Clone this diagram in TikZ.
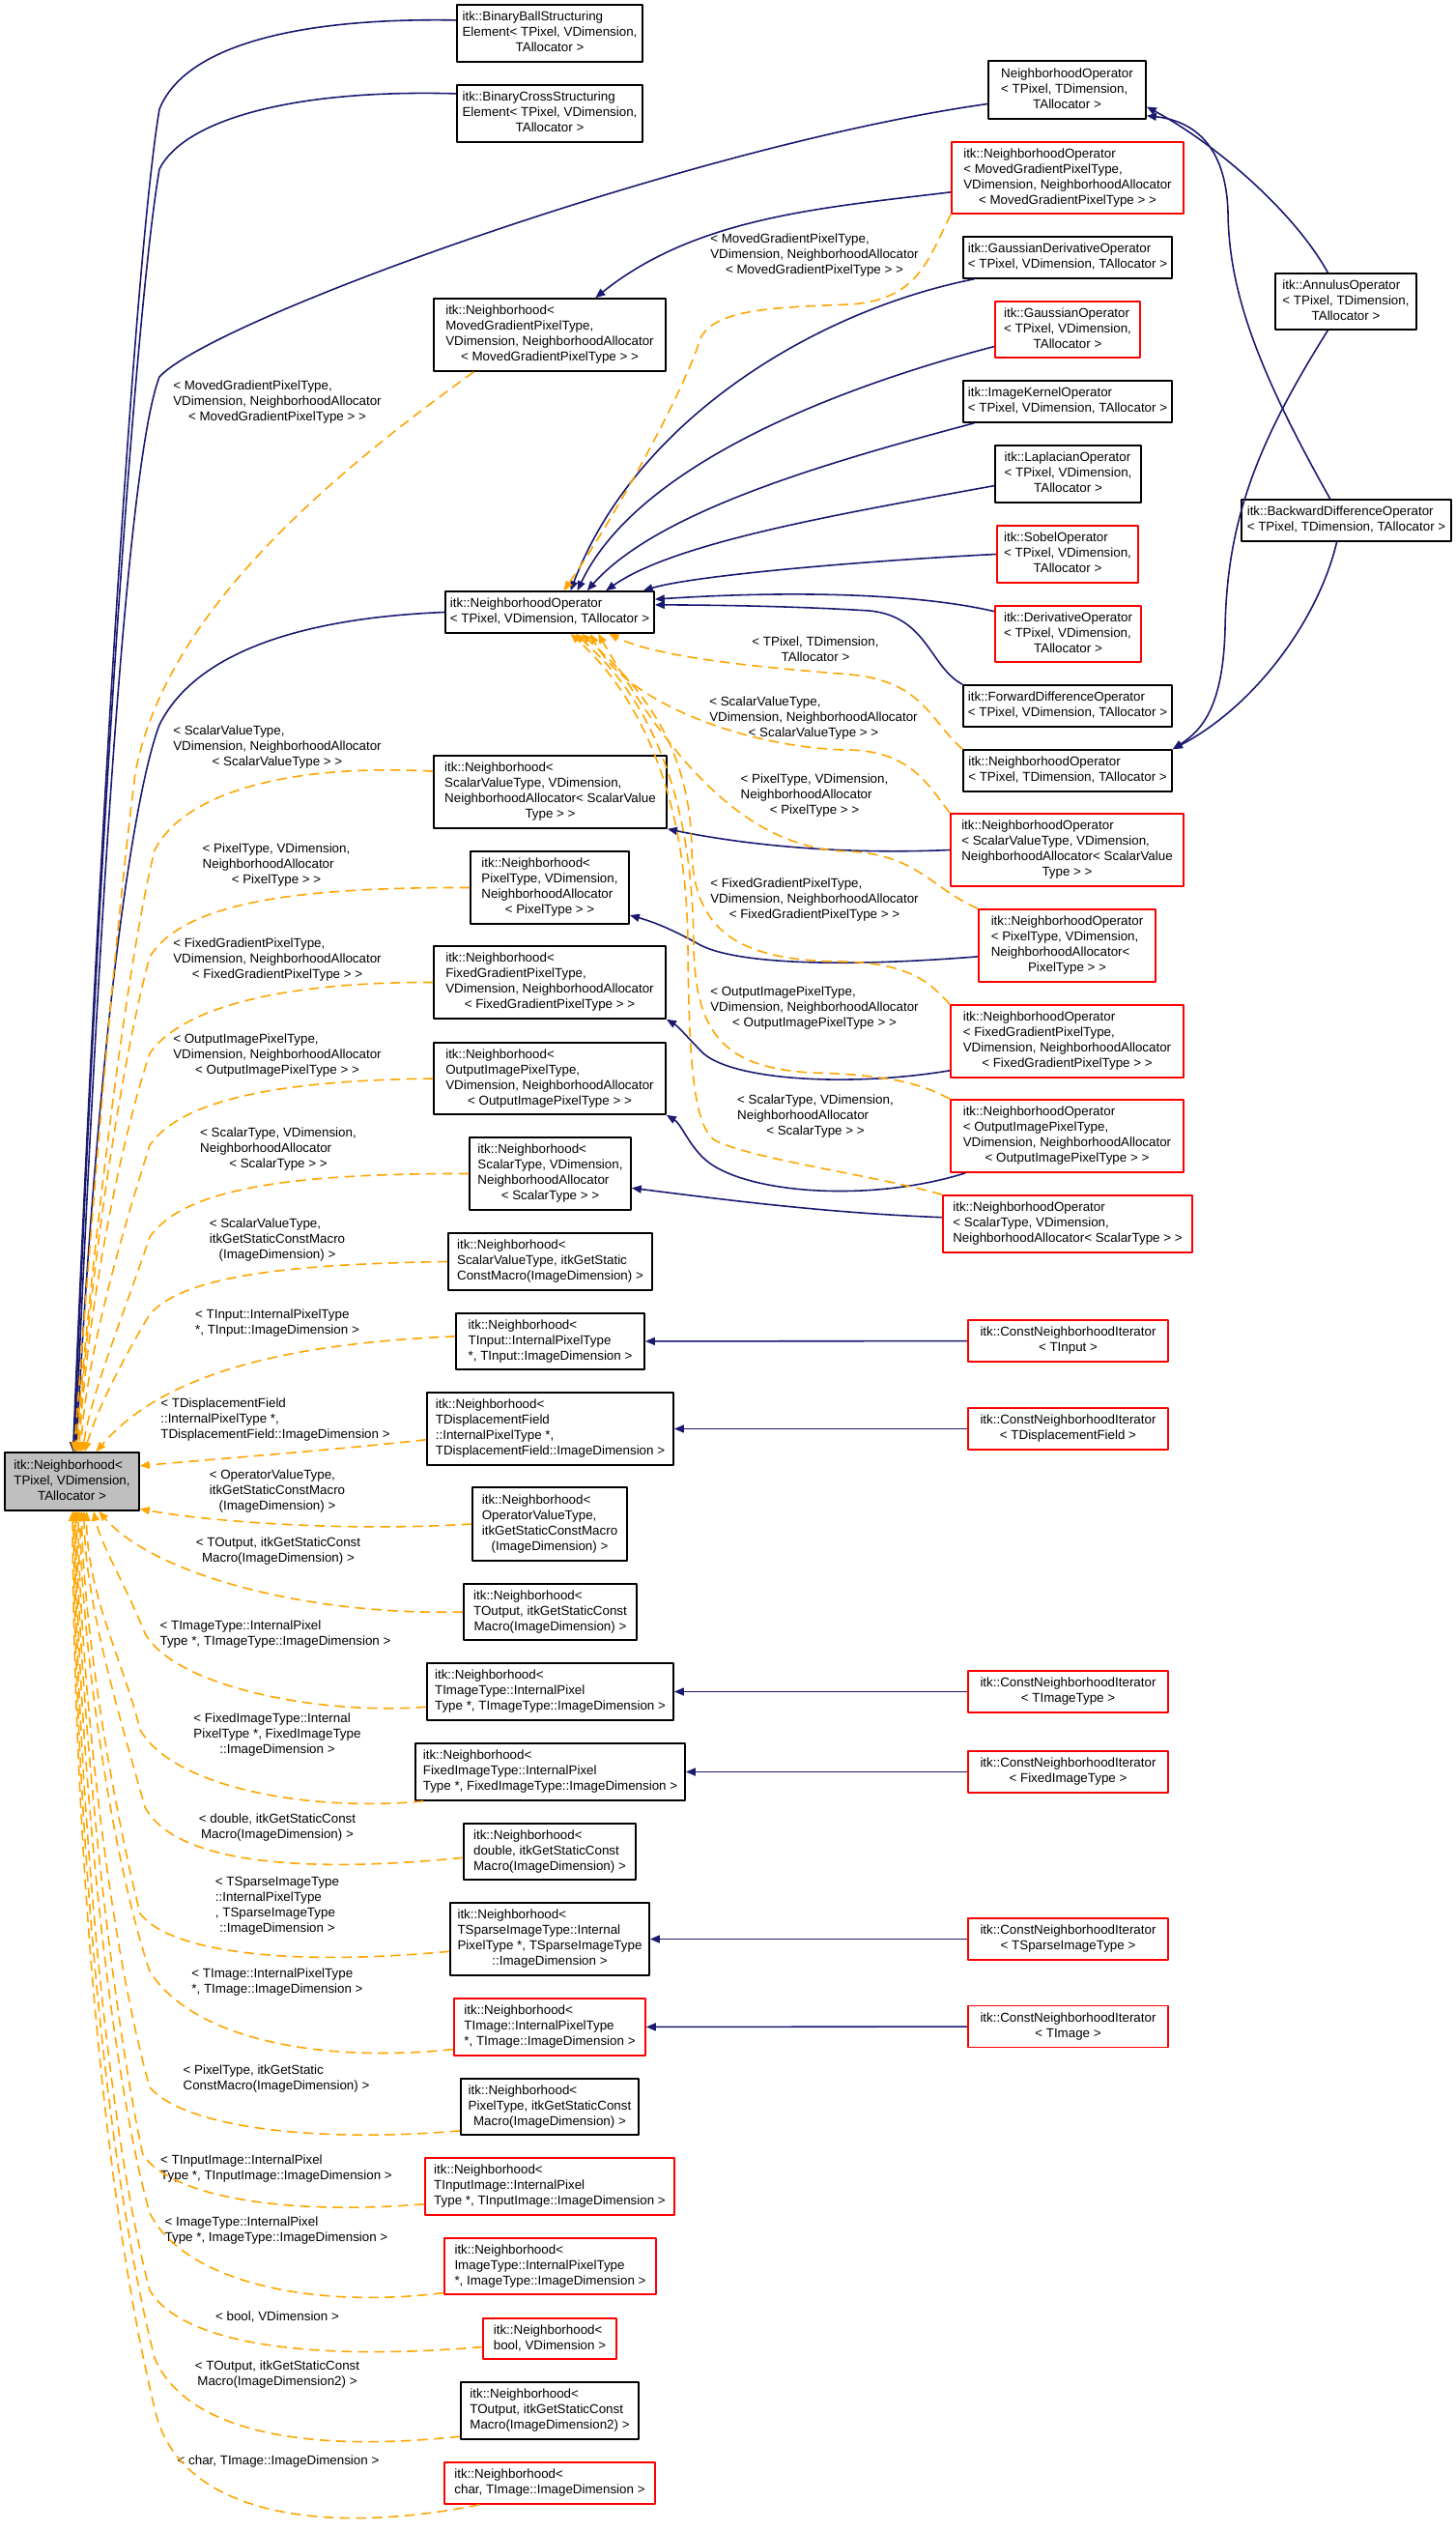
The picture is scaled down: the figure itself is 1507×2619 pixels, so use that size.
\documentclass[tikz,border=0pt]{standalone}
\usepackage{fontspec}
\setmainfont{Liberation Sans}
\usetikzlibrary{arrows.meta}
\definecolor{navy}{HTML}{191970}
\definecolor{tmplorange}{HTML}{FFA500}
\definecolor{basegray}{HTML}{BFBFBF}
% 前几行左对齐，最后一行居中
\newcommand{\dxl}[2]{\begin{tabular}{@{}l@{}}#1\\\multicolumn{1}{@{}c@{}}{#2}\end{tabular}}

\begin{document}
\begin{tikzpicture}[x=0.01cm,y=-0.01cm,line join=round,
  every node/.style={inner sep=0pt,font=\fontsize{3.8}{4.55}\selectfont},
  cls/.style={draw=black,fill=white,line width=0.45pt},
  undoc/.style={cls,draw=red},
  inh/.style={draw=navy,line width=0.45pt,-{Triangle[length=0.1cm,width=0.08cm]}},
  tmpl/.style={draw=tmplorange,line width=0.45pt,dash pattern=on 3pt off 1.8pt,-{Triangle[length=0.1cm,width=0.08cm]}}]
  \fill[white] (0,0) rectangle (1507,2619);
  \path[use as bounding box] (0,0) rectangle (1507,2619);
  % 基类
  \node[cls,fill=basegray,minimum width=1.39cm,minimum height=0.60cm] (L) at (74.5,1533) {\dxl{itk::Neighborhood<\\TPixel, VDimension,}{TAllocator >}};
  % 上部子类
  \node[cls,minimum width=1.92cm,minimum height=0.59cm] (bball) at (569,34.5) {\dxl{itk::BinaryBallStructuring\\Element< TPixel, VDimension,}{TAllocator >}};
  \node[cls,minimum width=1.92cm,minimum height=0.59cm] (bcross) at (569,117.5) {\dxl{itk::BinaryCrossStructuring\\Element< TPixel, VDimension,}{TAllocator >}};
  \node[cls,minimum width=1.63cm,minimum height=0.60cm] (nopT) at (1104.5,93) {\dxl{NeighborhoodOperator\\< TPixel, TDimension,}{TAllocator >}};
  \node[undoc,minimum width=2.40cm,minimum height=0.74cm] (nopMG) at (1105,184) {\dxl{itk::NeighborhoodOperator\\< MovedGradientPixelType,\\VDimension, NeighborhoodAllocator}{< MovedGradientPixelType > >}};
  \node[cls,minimum width=2.40cm,minimum height=0.75cm] (nbMG) at (569,346.5) {\dxl{itk::Neighborhood<\\MovedGradientPixelType,\\VDimension, NeighborhoodAllocator}{< MovedGradientPixelType > >}};
  % 算子
  \node[cls,minimum width=2.16cm,minimum height=0.43cm] (gdo) at (1105,266.5) {\dxl{itk::GaussianDerivativeOperator}{< TPixel, VDimension, TAllocator >}};
  \node[undoc,minimum width=1.50cm,minimum height=0.58cm] (go) at (1105,341) {\dxl{itk::GaussianOperator\\< TPixel, VDimension,}{TAllocator >}};
  \node[cls,minimum width=1.46cm,minimum height=0.58cm] (annulus) at (1393,312) {\dxl{itk::AnnulusOperator\\< TPixel, TDimension,}{TAllocator >}};
  \node[cls,minimum width=2.16cm,minimum height=0.43cm] (iko) at (1105,415.5) {\dxl{itk::ImageKernelOperator}{< TPixel, VDimension, TAllocator >}};
  \node[cls,minimum width=1.51cm,minimum height=0.59cm] (lap) at (1105.5,490.5) {\dxl{itk::LaplacianOperator\\< TPixel, VDimension,}{TAllocator >}};
  \node[cls,minimum width=2.17cm,minimum height=0.43cm] (bdo) at (1393.5,538.5) {\dxl{itk::BackwardDifferenceOperator}{< TPixel, TDimension, TAllocator >}};
  \node[undoc,minimum width=1.46cm,minimum height=0.59cm] (sobel) at (1105,573.5) {\dxl{itk::SobelOperator\\< TPixel, VDimension,}{TAllocator >}};
  \node[undoc,minimum width=1.51cm,minimum height=0.58cm] (deriv) at (1105.5,656) {\dxl{itk::DerivativeOperator\\< TPixel, VDimension,}{TAllocator >}};
  \node[cls,minimum width=2.16cm,minimum height=0.43cm] (fdo) at (1105,730.5) {\dxl{itk::ForwardDifferenceOperator}{< TPixel, VDimension, TAllocator >}};
  \node[cls,minimum width=2.16cm,minimum height=0.43cm] (nopTD) at (1105,797.5) {\dxl{itk::NeighborhoodOperator}{< TPixel, TDimension, TAllocator >}};
  \node[cls,minimum width=2.16cm,minimum height=0.43cm] (hub) at (569,633.5) {\dxl{itk::NeighborhoodOperator}{< TPixel, VDimension, TAllocator >}};
  % 模板实例（中列与右列）
  \node[cls,minimum width=2.41cm,minimum height=0.75cm] (nbSV) at (569.5,819.5) {\dxl{itk::Neighborhood<\\ScalarValueType, VDimension,\\NeighborhoodAllocator< ScalarValue}{Type > >}};
  \node[undoc,minimum width=2.41cm,minimum height=0.75cm] (nopSV) at (1104.5,879.5) {\dxl{itk::NeighborhoodOperator\\< ScalarValueType, VDimension,\\NeighborhoodAllocator< ScalarValue}{Type > >}};
  \node[cls,minimum width=1.64cm,minimum height=0.75cm] (nbP) at (569,918.5) {\dxl{itk::Neighborhood<\\PixelType, VDimension,\\NeighborhoodAllocator}{< PixelType > >}};
  \node[undoc,minimum width=1.83cm,minimum height=0.75cm] (nopP) at (1104.5,978.5) {\dxl{itk::NeighborhoodOperator\\< PixelType, VDimension,\\NeighborhoodAllocator<}{PixelType > >}};
  \node[cls,minimum width=2.40cm,minimum height=0.75cm] (nbFG) at (569,1016.5) {\dxl{itk::Neighborhood<\\FixedGradientPixelType,\\VDimension, NeighborhoodAllocator}{< FixedGradientPixelType > >}};
  \node[undoc,minimum width=2.41cm,minimum height=0.75cm] (nopFG) at (1104.5,1077.5) {\dxl{itk::NeighborhoodOperator\\< FixedGradientPixelType,\\VDimension, NeighborhoodAllocator}{< FixedGradientPixelType > >}};
  \node[cls,minimum width=2.40cm,minimum height=0.74cm] (nbOI) at (569,1116) {\dxl{itk::Neighborhood<\\OutputImagePixelType,\\VDimension, NeighborhoodAllocator}{< OutputImagePixelType > >}};
  \node[undoc,minimum width=2.41cm,minimum height=0.75cm] (nopOI) at (1104.5,1175.5) {\dxl{itk::NeighborhoodOperator\\< OutputImagePixelType,\\VDimension, NeighborhoodAllocator}{< OutputImagePixelType > >}};
  \node[cls,minimum width=1.67cm,minimum height=0.75cm] (nbS) at (569.5,1214.5) {\dxl{itk::Neighborhood<\\ScalarType, VDimension,\\NeighborhoodAllocator}{< ScalarType > >}};
  \node[undoc,minimum width=2.58cm,minimum height=0.59cm] (nopS) at (1105,1266.5) {\dxl{itk::NeighborhoodOperator\\< ScalarType, VDimension,}{NeighborhoodAllocator< ScalarType > >}};
  \node[cls,minimum width=2.11cm,minimum height=0.59cm] (nbSVM) at (569.5,1305.5) {\dxl{itk::Neighborhood<\\ScalarValueType, itkGetStatic}{ConstMacro(ImageDimension) >}};
  \node[cls,minimum width=1.95cm,minimum height=0.58cm] (nbTI) at (569.5,1388) {\dxl{itk::Neighborhood<\\TInput::InternalPixelType}{*, TInput::ImageDimension >}};
  \node[undoc,minimum width=2.07cm,minimum height=0.43cm] (citI) at (1105.5,1387.5) {\dxl{itk::ConstNeighborhoodIterator}{< TInput >}};
  \node[cls,minimum width=2.55cm,minimum height=0.75cm] (nbDF) at (569.5,1478.5) {\dxl{itk::Neighborhood<\\TDisplacementField\\::InternalPixelType *,}{TDisplacementField::ImageDimension >}};
  \node[undoc,minimum width=2.07cm,minimum height=0.43cm] (citDF) at (1105.5,1478.5) {\dxl{itk::ConstNeighborhoodIterator}{< TDisplacementField >}};
  \node[cls,minimum width=1.60cm,minimum height=0.76cm] (nbOV) at (569,1577) {\dxl{itk::Neighborhood<\\OperatorValueType,\\itkGetStaticConstMacro}{(ImageDimension) >}};
  \node[cls,minimum width=1.79cm,minimum height=0.58cm] (nbTO) at (569.5,1668) {\dxl{itk::Neighborhood<\\TOutput, itkGetStaticConst}{Macro(ImageDimension) >}};
  \node[cls,minimum width=2.55cm,minimum height=0.59cm] (nbTT) at (569.5,1750.5) {\dxl{itk::Neighborhood<\\TImageType::InternalPixel}{Type *, TImageType::ImageDimension >}};
  \node[undoc,minimum width=2.07cm,minimum height=0.43cm] (citTT) at (1105.5,1750.5) {\dxl{itk::ConstNeighborhoodIterator}{< TImageType >}};
  \node[cls,minimum width=2.79cm,minimum height=0.59cm] (nbFI) at (569.5,1833.5) {\dxl{itk::Neighborhood<\\FixedImageType::InternalPixel}{Type *, FixedImageType::ImageDimension >}};
  \node[undoc,minimum width=2.07cm,minimum height=0.43cm] (citFI) at (1105.5,1833.5) {\dxl{itk::ConstNeighborhoodIterator}{< FixedImageType >}};
  \node[cls,minimum width=1.78cm,minimum height=0.58cm] (nbD) at (569,1916) {\dxl{itk::Neighborhood<\\double, itkGetStaticConst}{Macro(ImageDimension) >}};
  \node[cls,minimum width=2.06cm,minimum height=0.75cm] (nbSI) at (569,2006.5) {\dxl{itk::Neighborhood<\\TSparseImageType::Internal\\PixelType *, TSparseImageType}{::ImageDimension >}};
  \node[undoc,minimum width=2.07cm,minimum height=0.43cm] (citSI) at (1105.5,2006.5) {\dxl{itk::ConstNeighborhoodIterator}{< TSparseImageType >}};
  \node[undoc,minimum width=1.98cm,minimum height=0.59cm] (nbI) at (569,2097.5) {\dxl{itk::Neighborhood<\\TImage::InternalPixelType}{*, TImage::ImageDimension >}};
  \node[undoc,minimum width=2.07cm,minimum height=0.43cm] (citIm) at (1105.5,2097) {\dxl{itk::ConstNeighborhoodIterator}{< TImage >}};
  \node[cls,minimum width=1.84cm,minimum height=0.58cm] (nbPT) at (569,2180) {\dxl{itk::Neighborhood<\\PixelType, itkGetStaticConst}{Macro(ImageDimension) >}};
  \node[undoc,minimum width=2.58cm,minimum height=0.59cm] (nbTIm) at (569,2262.5) {\dxl{itk::Neighborhood<\\TInputImage::InternalPixel}{Type *, TInputImage::ImageDimension >}};
  \node[undoc,minimum width=2.19cm,minimum height=0.58cm] (nbIT) at (569.5,2345) {\dxl{itk::Neighborhood<\\ImageType::InternalPixelType}{*, ImageType::ImageDimension >}};
  \node[undoc,minimum width=1.38cm,minimum height=0.42cm] (nbB) at (569,2420) {\dxl{itk::Neighborhood<}{bool, VDimension >}};
  \node[cls,minimum width=1.84cm,minimum height=0.59cm] (nbTO2) at (569,2494.5) {\dxl{itk::Neighborhood<\\TOutput, itkGetStaticConst}{Macro(ImageDimension2) >}};
  \node[undoc,minimum width=2.18cm,minimum height=0.43cm] (nbC) at (569,2569.5) {\dxl{itk::Neighborhood<}{char, TImage::ImageDimension >}};
  % 模板参数标签
  \node (lMG1) at (287,416) {\dxl{< MovedGradientPixelType,\\VDimension, NeighborhoodAllocator}{< MovedGradientPixelType > >}};
  \node (lMG2) at (843,264) {\dxl{< MovedGradientPixelType,\\VDimension, NeighborhoodAllocator}{< MovedGradientPixelType > >}};
  \node (lTD) at (844,673) {\dxl{< TPixel, TDimension,}{TAllocator >}};
  \node (lSV2) at (842,743) {\dxl{< ScalarValueType,\\VDimension, NeighborhoodAllocator}{< ScalarValueType > >}};
  \node (lP2) at (843,823) {\dxl{< PixelType, VDimension,\\NeighborhoodAllocator}{< PixelType > >}};
  \node (lFG2) at (843,931) {\dxl{< FixedGradientPixelType,\\VDimension, NeighborhoodAllocator}{< FixedGradientPixelType > >}};
  \node (lOI2) at (843,1043) {\dxl{< OutputImagePixelType,\\VDimension, NeighborhoodAllocator}{< OutputImagePixelType > >}};
  \node (lS2) at (844,1155) {\dxl{< ScalarType, VDimension,\\NeighborhoodAllocator}{< ScalarType > >}};
  \node (lSV) at (287,773) {\dxl{< ScalarValueType,\\VDimension, NeighborhoodAllocator}{< ScalarValueType > >}};
  \node (lP) at (286,895) {\dxl{< PixelType, VDimension,\\NeighborhoodAllocator}{< PixelType > >}};
  \node (lFG) at (287,993) {\dxl{< FixedGradientPixelType,\\VDimension, NeighborhoodAllocator}{< FixedGradientPixelType > >}};
  \node (lOI) at (287,1092) {\dxl{< OutputImagePixelType,\\VDimension, NeighborhoodAllocator}{< OutputImagePixelType > >}};
  \node (lS) at (288,1189) {\dxl{< ScalarType, VDimension,\\NeighborhoodAllocator}{< ScalarType > >}};
  \node (lSVM) at (287,1283) {\dxl{< ScalarValueType,\\itkGetStaticConstMacro}{(ImageDimension) >}};
  \node (lTI) at (287,1369) {\dxl{< TInput::InternalPixelType}{*, TInput::ImageDimension >}};
  \node (lDF) at (285,1469) {\dxl{< TDisplacementField\\::InternalPixelType *,}{TDisplacementField::ImageDimension >}};
  \node (lOV) at (287,1543) {\dxl{< OperatorValueType,\\itkGetStaticConstMacro}{(ImageDimension) >}};
  \node (lTO) at (288,1605) {\dxl{< TOutput, itkGetStaticConst}{Macro(ImageDimension) >}};
  \node (lTT) at (285,1691) {\dxl{< TImageType::InternalPixel}{Type *, TImageType::ImageDimension >}};
  \node (lFI) at (287,1795) {\dxl{< FixedImageType::Internal\\PixelType *, FixedImageType}{::ImageDimension >}};
  \node (lD) at (287,1891) {\dxl{< double, itkGetStaticConst}{Macro(ImageDimension) >}};
  \node (lSI) at (287,1972) {\dxl{< TSparseImageType\\::InternalPixelType\\*, TSparseImageType}{::ImageDimension >}};
  \node (lI) at (287,2051) {\dxl{< TImage::InternalPixelType}{*, TImage::ImageDimension >}};
  \node (lPT) at (286,2151) {\dxl{< PixelType, itkGetStatic}{ConstMacro(ImageDimension) >}};
  \node (lTIm) at (286,2244) {\dxl{< TInputImage::InternalPixel}{Type *, TInputImage::ImageDimension >}};
  \node (lIT) at (286,2308) {\dxl{< ImageType::InternalPixel}{Type *, ImageType::ImageDimension >}};
  \node (lB) at (287,2397) {< bool, VDimension >};
  \node (lTO2) at (287,2457) {\dxl{< TOutput, itkGetStaticConst}{Macro(ImageDimension2) >}};
  \node (lC) at (288,2547) {< char, TImage::ImageDimension >};
  % 继承：指向基类
  \draw[inh] (bball.172) .. controls (300,18) and (190,50) .. (165,113) .. controls (140,260) and (100,900) .. (L.88);
  \draw[inh] (bcross.168) .. controls (300,92) and (190,125) .. (165,175) .. controls (140,320) and (100,900) .. (L.86);
  \draw[inh] (nopT.190) .. controls (720,150) and (220,330) .. (165,390) .. controls (130,480) and (100,1000) .. (L.84);
  \draw[inh] (hub.west) .. controls (300,640) and (200,680) .. (165,750) .. controls (135,830) and (100,1100) .. (L.82);
  \draw[inh] (nopMG.187) .. controls (850,215) and (720,225) .. (nbMG.39);
  % 继承：指向 NeighborhoodOperator
  \draw[inh] (gdo.193) .. controls (850,320) and (660,430) .. (hub.46);
  \draw[inh] (go.193) .. controls (870,400) and (660,480) .. (hub.38);
  \draw[inh] (iko.193) .. controls (850,480) and (680,530) .. (hub.30);
  \draw[inh] (lap.189) .. controls (880,530) and (700,560) .. (hub.21);
  \draw[inh] (sobel.west) .. controls (900,580) and (720,595) .. (hub.13);
  \draw[inh] (deriv.163) .. controls (940,612) and (800,612) .. (hub.7);
  \draw[inh] (fdo.north west) .. controls (962,690) and (960,638) .. (900,632) .. controls (820,627) and (730,626) .. (hub.4);
  \draw[inh] (annulus.122) .. controls (1340,220) and (1260,150) .. (nopT.348);
  \draw[inh] (bdo.127) .. controls (1300,380) and (1272,300) .. (1271,220) .. controls (1269,150) and (1235,125) .. (nopT.342);
  \draw[inh] (annulus.238) .. controls (1300,460) and (1270,540) .. (1268,650) .. controls (1266,730) and (1245,755) .. (nopTD.north east);
  \draw[inh] (bdo.246) .. controls (1365,640) and (1300,730) .. (nopTD.north east);
  % 继承：实例之间
  \draw[inh] (nopSV.west) .. controls (860,885) and (760,872) .. (nbSV.south east);
  \draw[inh] (nopP.187) .. controls (860,1002) and (760,996) .. (725,978) .. controls (700,964) and (680,955) .. (nbP.341);
  \draw[inh] (nopFG.194) .. controls (880,1125) and (760,1118) .. (728,1090) .. controls (712,1074) and (702,1062) .. (nbFG.south east);
  \draw[inh] (nopOI.200) .. controls (900,1245) and (770,1235) .. (730,1200) .. controls (713,1185) and (705,1163) .. (nbOI.south east);
  \draw[inh] (nopS.177) .. controls (850,1255) and (740,1240) .. (nbS.350);
  \draw[inh] (citI) -- (nbTI);
  \draw[inh] (citDF) -- (nbDF);
  \draw[inh] (citTT) -- (nbTT);
  \draw[inh] (citFI) -- (nbFI);
  \draw[inh] (citSI) -- (nbSI);
  \draw[inh] (citIm) -- (nbI);
  % 模板实例：指向 NeighborhoodOperator
  \draw[tmpl] (nopMG.south west) .. controls (960,270) and (950,310) .. (880,315) .. controls (800,318) and (740,320) .. (725,350) .. controls (710,400) and (640,530) .. (hub.57);
  \draw[tmpl] (nopTD.north west) .. controls (962,745) and (955,705) .. (880,698) .. controls (780,690) and (680,680) .. (hub.340);
  \draw[tmpl] (nopSV.north west) .. controls (962,815) and (945,778) .. (880,776) .. controls (780,775) and (650,730) .. (hub.332);
  \draw[tmpl] (nopP.north west) .. controls (965,920) and (950,885) .. (880,881) .. controls (760,880) and (680,760) .. (hub.336);
  \draw[tmpl] (nopFG.north west) .. controls (965,1020) and (945,996) .. (870,995) .. controls (760,994) and (718,960) .. (716,880) .. controls (715,760) and (650,700) .. (hub.326);
  \draw[tmpl] (nopOI.north west) .. controls (960,1125) and (930,1112) .. (840,1110) .. controls (750,1105) and (720,1070) .. (718,980) .. controls (717,780) and (645,700) .. (hub.320);
  \draw[tmpl] (nopS.north west) .. controls (900,1215) and (780,1200) .. (740,1180) .. controls (718,1165) and (713,1100) .. (712,980) .. controls (711,790) and (640,700) .. (hub.314);
  % 模板实例：指向基类（上方）
  \draw[tmpl] (nbMG.206) .. controls (330,500) and (170,640) .. (140,800) .. controls (115,1000) and (92,1300) .. (L.86);
  \draw[tmpl] (nbSV.170) .. controls (300,790) and (190,820) .. (160,880) .. controls (130,1000) and (95,1300) .. (L.83);
  \draw[tmpl] (nbP.west) .. controls (300,918) and (190,935) .. (155,990) .. controls (125,1100) and (93,1320) .. (L.80);
  \draw[tmpl] (nbFG.west) .. controls (300,1016) and (190,1040) .. (155,1090) .. controls (125,1180) and (91,1350) .. (L.77);
  \draw[tmpl] (nbOI.west) .. controls (300,1118) and (190,1135) .. (155,1185) .. controls (125,1280) and (90,1400) .. (L.74);
  \draw[tmpl] (nbS.west) .. controls (300,1214) and (190,1230) .. (155,1280) .. controls (128,1360) and (95,1440) .. (L.71);
  \draw[tmpl] (nbSVM.west) .. controls (300,1308) and (190,1320) .. (155,1360) .. controls (125,1410) and (100,1460) .. (L.67);
  \draw[tmpl] (nbTI.177) .. controls (300,1390) and (170,1420) .. (L.51);
  % 模板实例：指向基类（右侧与下方）
  \draw[tmpl] (nbDF.185) .. controls (350,1500) and (220,1510) .. (L.13);
  \draw[tmpl] (nbOV.west) .. controls (360,1585) and (220,1575) .. (L.338);
  \draw[tmpl] (nbTO.west) .. controls (320,1672) and (160,1630) .. (L.312);
  \draw[tmpl] (nbTT.187) .. controls (330,1775) and (180,1745) .. (150,1690) .. controls (130,1640) and (105,1600) .. (L.306);
  \draw[tmpl] (nbFI.193) .. controls (320,1875) and (180,1850) .. (145,1790) .. controls (128,1720) and (90,1650) .. (L.296);
  \draw[tmpl] (nbD.184) .. controls (300,1940) and (180,1925) .. (150,1870) .. controls (125,1780) and (88,1660) .. (L.292);
  \draw[tmpl] (nbSI.187) .. controls (300,2035) and (175,2020) .. (145,1980) .. controls (115,1860) and (86,1680) .. (L.288);
  \draw[tmpl] (nbI.193) .. controls (330,2135) and (200,2110) .. (155,2040) .. controls (115,1920) and (84,1700) .. (L.285);
  \draw[tmpl] (nbPT.195) .. controls (320,2218) and (190,2200) .. (155,2160) .. controls (110,2000) and (82,1720) .. (L.282);
  \draw[tmpl] (nbTIm.188) .. controls (300,2292) and (180,2275) .. (148,2230) .. controls (115,2080) and (80,1750) .. (L.279);
  \draw[tmpl] (nbIT.194) .. controls (320,2390) and (190,2360) .. (155,2290) .. controls (110,2130) and (79,1780) .. (L.277);
  \draw[tmpl] (nbB.187) .. controls (300,2445) and (185,2420) .. (155,2370) .. controls (105,2180) and (78,1800) .. (L.275);
  \draw[tmpl] (nbTO2.196) .. controls (300,2540) and (190,2510) .. (160,2440) .. controls (100,2200) and (77,1820) .. (L.273);
  \draw[tmpl] (nbC.197) .. controls (330,2625) and (190,2600) .. (162,2500) .. controls (100,2250) and (76,1850) .. (L.271);
\end{tikzpicture}
\end{document}
